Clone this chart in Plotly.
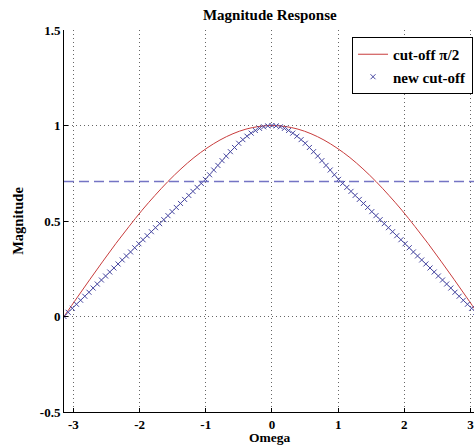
import numpy as np
import plotly.graph_objects as go

# sample grid (omega from -pi to pi)
omega_red = np.linspace(-np.pi, np.pi, 33)
omega_blue = np.linspace(-np.pi, np.pi, 101)

# red curve (cut-off pi/2), symmetric about 0
red_half = [1.0, 0.995, 0.981, 0.957, 0.924, 0.882, 0.832, 0.773, 0.707,
            0.634, 0.556, 0.471, 0.383, 0.290, 0.195, 0.098, 0.0]
red_vals = red_half[::-1] + red_half[1:]

# blue markers (new cut-off), symmetric about 0
blue_half = [1.000, 0.998, 0.993, 0.985, 0.974, 0.960, 0.944, 0.926, 0.907,
             0.885, 0.863, 0.840, 0.816, 0.791, 0.767, 0.742, 0.718, 0.697,
             0.676, 0.655, 0.634, 0.613, 0.592, 0.571, 0.549, 0.528, 0.507,
             0.486, 0.465, 0.444, 0.423, 0.402, 0.381, 0.360, 0.338, 0.317,
             0.296, 0.275, 0.254, 0.233, 0.212, 0.191, 0.170, 0.149, 0.127,
             0.106, 0.085, 0.064, 0.043, 0.022, 0.0]
blue_vals = blue_half[::-1] + blue_half[1:]

cutoff_level = 0.707

x_ticks = [-3, -2, -1, 0, 1, 2, 3]
x_tick_text = ["-3", "-2", "-1", "0", "1", "2", "3"]
y_ticks = [-0.5, 0, 0.5, 1, 1.5]
y_tick_text = ["-0.5", "0", "0.5", "1", "1.5"]

FONT = "Liberation Serif"

fig = go.Figure()
fig.add_trace(go.Scatter(
    x=omega_red, y=red_vals, mode="lines", name="cut-off π/2",
    line=dict(color="#c83c3c", width=1, shape="spline"),
))
fig.add_trace(go.Scatter(
    x=omega_blue, y=blue_vals, mode="markers", name="new cut-off",
    marker=dict(symbol="x-thin", size=5, line=dict(color="#4646a0", width=1),
                color="#4646a0"),
))
fig.add_trace(go.Scatter(
    x=[-np.pi, np.pi], y=[cutoff_level, cutoff_level], mode="lines",
    showlegend=False,
    line=dict(color="#7474c4", width=1.5, dash="10px,5px"),
))

axis_common = dict(
    showgrid=True, gridcolor="#666666", griddash="1px,3px", gridwidth=1,
    showline=True, linecolor="black", linewidth=1,
    ticks="inside", ticklen=4, tickcolor="black",
    zeroline=False, mirror=False, ticklabeloverflow="allow",
    tickfont=dict(family=FONT, size=13, color="black", weight="bold"),
)

fig.update_layout(
    width=474, height=446,
    margin=dict(l=64, r=0, t=30, b=34),
    paper_bgcolor="white", plot_bgcolor="white",
    title=dict(text="Magnitude Response", x=0.502, xref="paper",
               y=1 - 15 / 446, yref="container", xanchor="center", yanchor="middle",
               font=dict(family=FONT, size=15, color="black", weight="bold")),
    xaxis=dict(range=[-np.pi, 3.052], tickvals=x_ticks, ticktext=x_tick_text,
               **axis_common),
    yaxis=dict(range=[-0.5, 1.5], tickvals=y_ticks, ticktext=y_tick_text,
               title=dict(text="Magnitude", standoff=12,
                          font=dict(family=FONT, size=14.5, color="black", weight="bold")),
               **axis_common),
    legend=dict(x=0.9976, y=0.9817, xanchor="right", yanchor="top",
                bgcolor="white", bordercolor="black", borderwidth=1,
                font=dict(family=FONT, size=15, color="black", weight="bold"),
                tracegroupgap=0, itemwidth=30),
    showlegend=True,
    annotations=[dict(text="Omega", xref="paper", yref="paper", x=0.5, y=-25 / 382,
                      xanchor="center", yanchor="middle", showarrow=False,
                      font=dict(family=FONT, size=13.5, color="black", weight="bold"))],
)

fig.write_html("out.html", config={"displayModeBar": False},
               post_script="document.body.style.margin='0px';document.body.style.overflow='hidden';")
